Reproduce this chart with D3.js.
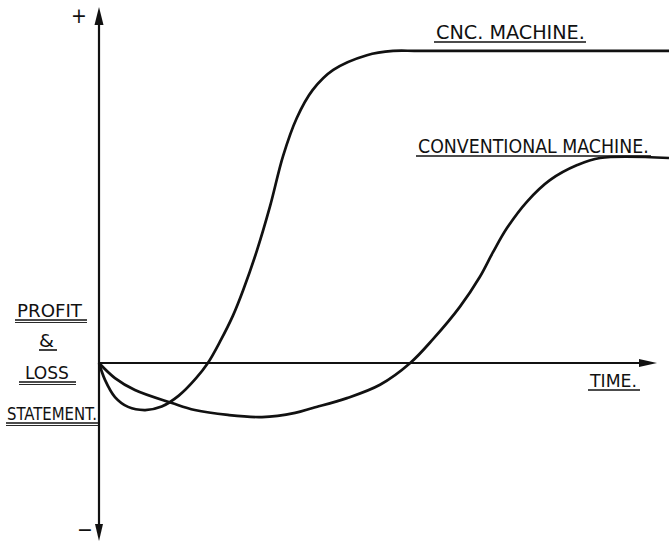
<!DOCTYPE html>
<html>
<head>
<meta charset="utf-8">
<script src="https://cdn.jsdelivr.net/npm/d3@7"></script>
<style>
  html, body { margin: 0; padding: 0; background: #fff; }
  svg { display: block; }
  text { font-family: "DejaVu Sans Condensed", "Liberation Sans Narrow", "DejaVu Sans", sans-serif; fill: #111; }
</style>
</head>
<body>
<svg id="chart" width="669" height="541"></svg>
<script>
// ---- data (time units 0..100, profit units; 0 = break-even) ----
const cncTime   = [0, 1.05, 2.8, 5.1, 8.1, 11.0, 14.0, 17.0, 19.1, 21.2, 23.5, 25.3, 27.7, 30.0, 32.3, 34.7, 37.5, 41.1, 47.0, 51.6, 56.3, 100];
const cncProfit = [0, -4.8, -9.7, -12.5, -13.4, -12.4, -9.3, -4.4, 0, 6.0, 13.5, 20.8, 32.0, 44.6, 59.0, 69.8, 77.8, 83.5, 87.7, 88.9, 88.9, 88.9];
const convTime   = [0, 2.8, 6.3, 12.8, 16.8, 22.6, 28.6, 34.4, 37.5, 43.5, 49.3, 54.6, 58.6, 63.3, 66.8, 69.1, 71.6, 75.1, 79.1, 83.9, 87.9, 100];
const convProfit = [0, -4.3, -7.7, -11.4, -13.4, -14.8, -15.4, -14.2, -12.8, -10.0, -6.2, 0, 6.8, 16.0, 24.5, 31.5, 38.5, 46.0, 52.1, 56.4, 58.4, 58.4];
const seriesNames = ["CNC.  MACHINE.", "CONVENTIONAL  MACHINE."];
const yAxisLabels = ["PROFIT", "&", "LOSS", "STATEMENT."];
const xAxisLabel = "TIME.";
const signLabels = ["+", "\u2212"];

const svg = d3.select("#chart");
const x = d3.scaleLinear().domain([0, 100]).range([99, 669]);
const y = d3.scaleLinear().domain([-50, 100]).range([538.5, 12]);

const ink = "#111";

// axes
svg.append("line").attr("x1", x(0)).attr("x2", x(0)).attr("y1", y(98)).attr("y2", y(-47))
  .attr("stroke", ink).attr("stroke-width", 2.2);
svg.append("line").attr("x1", x(0)).attr("x2", 648).attr("y1", y(0)).attr("y2", y(0))
  .attr("stroke", ink).attr("stroke-width", 1.8);
// arrowheads
const ax = x(0);
svg.append("path").attr("d", `M${ax},7 L${ax-4.5},25 L${ax+4.5},25 Z`).attr("fill", ink);
svg.append("path").attr("d", `M${ax},541 L${ax-4},524 L${ax+4},524 Z`).attr("fill", ink);
svg.append("path").attr("d", `M657,${y(0)} L639,${y(0)-4} L639,${y(0)+4} Z`).attr("fill", ink);

// curves
const line = d3.line().x(d => x(d[0])).y(d => y(d[1])).curve(d3.curveCatmullRom.alpha(0.5));
svg.append("path").datum(cncTime.map((t, i) => [t, cncProfit[i]]))
  .attr("d", line).attr("fill", "none").attr("stroke", ink).attr("stroke-width", 2.7);
svg.append("path").datum(convTime.map((t, i) => [t, convProfit[i]]))
  .attr("d", line).attr("fill", "none").attr("stroke", ink).attr("stroke-width", 2.7);

// sign labels
svg.append("text").attr("x", 79).attr("y", 23).attr("text-anchor", "middle")
  .attr("font-size", 21).text(signLabels[0]);
svg.append("text").attr("x", 85).attr("y", 537).attr("text-anchor", "middle")
  .attr("font-size", 21).text(signLabels[1]);

// underlined text helper: horizontally scale text to fit [x0, x1]
function uText(txt, x0, x1, base, size, ul, double) {
  const g = svg.append("g");
  const t = g.append("text").attr("x", 0).attr("y", 0).attr("font-size", size).text(txt);
  const w = t.node().getComputedTextLength() || (x1 - x0);
  const sx = (x1 - x0) / w;
  g.attr("transform", `translate(${x0},${base}) scale(${sx},1)`);
  svg.append("line").attr("x1", ul[0]).attr("x2", ul[1]).attr("y1", base + 3).attr("y2", base + 3)
    .attr("stroke", ink).attr("stroke-width", 1.6);
  if (double) {
    svg.append("line").attr("x1", ul[0]).attr("x2", ul[1]).attr("y1", base + 5.5).attr("y2", base + 5.5)
      .attr("stroke", ink).attr("stroke-width", 0.9);
  }
}

// series labels
uText(seriesNames[0], 436, 585, 39, 19.5, [434, 586], false);
uText(seriesNames[1], 418, 649, 153, 19.5, [416, 651], false);

// y-axis labels
uText(yAxisLabels[0], 17, 82, 317, 17.5, [15, 87], true);
uText(yAxisLabels[1], 39, 54, 347, 17.5, [39, 57], false);
uText(yAxisLabels[2], 25, 69, 379, 17.5, [19, 76], true);
uText(yAxisLabels[3], 7, 97, 420, 17.5, [6, 98], true);

// x-axis label
uText(xAxisLabel, 590, 637, 387, 17.5, [588, 640], false);
</script>
</body>
</html>
